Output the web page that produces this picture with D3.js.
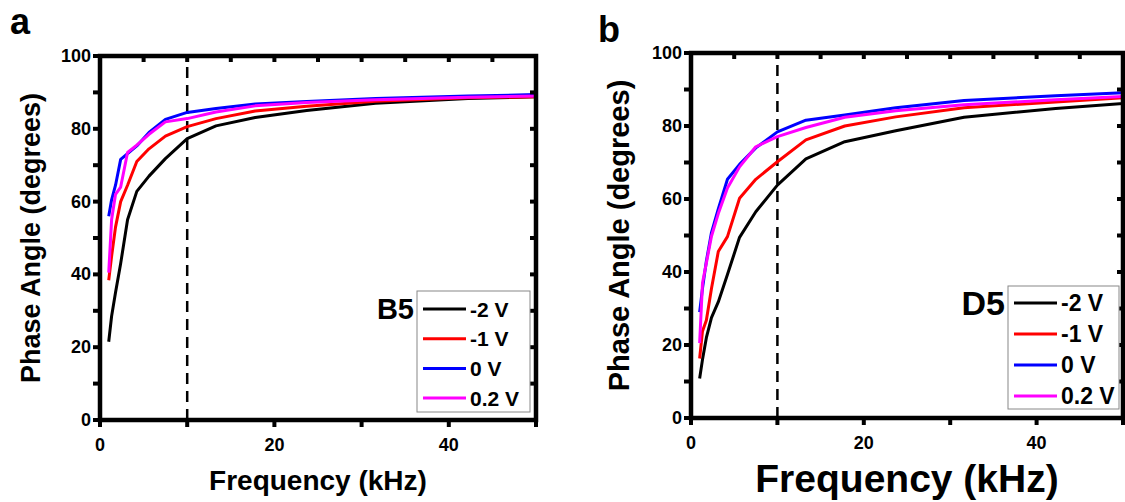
<!DOCTYPE html>
<html>
<head>
<meta charset="utf-8">
<script src="https://d3js.org/d3.v7.min.js"></script>
<style>
  body { margin: 0; background: #fff; }
  svg { font-family: "Liberation Sans", Arial, sans-serif; font-weight: bold; }
  .curve { fill: none; stroke-width: 3; stroke-linejoin: round; }
</style>
</head>
<body>
<script>
// frequencies (kHz), same sweep for every curve
var freq = [1, 1.33, 1.78, 2.37, 3.16, 4.22, 5.62, 7.5, 10, 13.3, 17.8, 23.7, 31.6, 42.2, 56.2];
var voltLabels = ["-2 V", "-1 V", "0 V", "0.2 V"];
var voltColors = ["#000000", "#ff0000", "#0000ff", "#ff00ff"];
var yTicks = [0, 20, 40, 60, 80, 100];
var xTicks = [0, 20, 40];

// device B5, phase angle (degrees)
var b5_m2  = [21.5, 28.5, 35, 43, 55, 62.8, 67, 71.8, 77.3, 80.8, 83.1, 85, 87, 88.3, 89.2];
var b5_m1  = [38.4, 45, 53, 60, 64.5, 71, 74.5, 78, 80.6, 82.8, 84.9, 86.2, 87.6, 88.5, 89.1];
var b5_0   = [56, 60.5, 64.5, 71.6, 73.2, 75.3, 79, 82.6, 84.5, 85.6, 86.8, 87.5, 88.3, 89, 89.7];
var b5_p2  = [40.5, 55, 62, 64, 73.5, 75.5, 78.5, 81.9, 82.8, 84.6, 86.3, 87.2, 88, 88.7, 89.2];

// device D5
var d5_m2  = [10.8, 16, 22, 27.5, 31.8, 39.3, 49.5, 56.5, 63.8, 71, 75.7, 78.7, 82.4, 84.8, 87.3];
var d5_m1  = [16.3, 23.8, 26.8, 35.5, 45.6, 49.7, 60.2, 65.4, 70.2, 76.2, 80, 82.5, 85, 86.6, 88.6];
var d5_0   = [29, 35.5, 43, 50.8, 57.3, 65.4, 69.5, 74, 78.4, 81.6, 83, 85, 87, 88.3, 89.7];
var d5_p2  = [20.5, 37, 42.5, 49.8, 56, 63, 68.8, 74.3, 77.1, 79.6, 82.4, 84.2, 85.8, 87.2, 88.8];

var svg = d3.select("body").append("svg")
    .attr("width", 1125)
    .attr("height", 502);

function drawPanel(cfg) {
    var x = d3.scaleLinear().domain([0, 50]).range([cfg.left, cfg.right]);
    var y = d3.scaleLinear().domain([0, 100]).range([cfg.bottom, cfg.top]);
    var g = svg.append("g");

    // clip so the last sweep point stops at the frame
    g.append("clipPath").attr("id", "clip" + cfg.id)
      .append("rect")
        .attr("x", cfg.left).attr("y", cfg.top)
        .attr("width", cfg.right - cfg.left).attr("height", cfg.bottom - cfg.top);

    // dashed marker at 10 kHz
    g.append("line")
        .attr("x1", x(10)).attr("x2", x(10))
        .attr("y1", y(0)).attr("y2", y(100))
        .attr("stroke", "#000").attr("stroke-width", 2.5)
        .attr("stroke-dasharray", "11,7");

    var line = d3.line()
        .x(function(d, i) { return x(freq[i]); })
        .y(function(d) { return y(d); });

    cfg.series.forEach(function(s, k) {
        g.append("path")
            .attr("class", "curve")
            .attr("clip-path", "url(#clip" + cfg.id + ")")
            .attr("stroke", voltColors[k])
            .attr("d", line(s));
    });

    // frame
    g.append("rect")
        .attr("x", cfg.left).attr("y", cfg.top)
        .attr("width", cfg.right - cfg.left).attr("height", cfg.bottom - cfg.top)
        .attr("fill", "none").attr("stroke", "#000").attr("stroke-width", 4.5);

    // y ticks: out on the left, in on the right
    d3.range(0, 101, 10).forEach(function(v) {
        g.append("line").attr("x1", cfg.left - 7).attr("x2", cfg.left)
            .attr("y1", y(v)).attr("y2", y(v)).attr("stroke", "#000").attr("stroke-width", 4);
        g.append("line").attr("x1", cfg.right - 6).attr("x2", cfg.right)
            .attr("y1", y(v)).attr("y2", y(v)).attr("stroke", "#000").attr("stroke-width", 4);
    });
    // x ticks: out on the bottom, in on the top
    d3.range(0, 51, 10).forEach(function(v) {
        g.append("line").attr("x1", x(v)).attr("x2", x(v))
            .attr("y1", cfg.bottom).attr("y2", cfg.bottom + 7).attr("stroke", "#000").attr("stroke-width", 4);
    });
    d3.range(0, 51, 5).forEach(function(v) {
        g.append("line").attr("x1", x(v)).attr("x2", x(v))
            .attr("y1", cfg.top).attr("y2", cfg.top + 6).attr("stroke", "#000").attr("stroke-width", 4);
    });

    g.selectAll(".ylab" + cfg.id).data(yTicks).enter().append("text")
        .attr("x", cfg.left - 9)
        .attr("y", function(d) { return y(d) + 6; })
        .attr("text-anchor", "end")
        .attr("font-size", 18)
        .text(function(d) { return d; });
    g.selectAll(".xlab" + cfg.id).data(xTicks).enter().append("text")
        .attr("x", function(d) { return x(d); })
        .attr("y", cfg.bottom + 31)
        .attr("text-anchor", "middle")
        .attr("font-size", 18)
        .text(function(d) { return d; });

    // axis titles
    g.append("text")
        .attr("transform", "translate(" + cfg.yTitleX + "," + ((cfg.top + cfg.bottom) / 2) + ") rotate(-90)")
        .attr("text-anchor", "middle")
        .attr("font-size", cfg.yTitleSize)
        .text("Phase Angle (degrees)");
    g.append("text")
        .attr("x", (cfg.left + cfg.right) / 2)
        .attr("y", cfg.xTitleY)
        .attr("text-anchor", "middle")
        .attr("font-size", cfg.xTitleSize)
        .text("Frequency (kHz)");

    // panel letter
    g.append("text")
        .attr("x", cfg.letterX).attr("y", cfg.letterY)
        .attr("font-size", 36)
        .text(cfg.letter);

    // legend
    var lg = cfg.legend;
    g.append("rect")
        .attr("x", lg.x).attr("y", lg.y).attr("width", lg.w).attr("height", lg.h)
        .attr("fill", "#fff").attr("stroke", "#888").attr("stroke-width", 1);
    voltLabels.forEach(function(lab, k) {
        var ry = lg.y + lg.row0 + k * lg.step;
        g.append("line")
            .attr("x1", lg.x + 6).attr("x2", lg.x + 6 + lg.len)
            .attr("y1", ry).attr("y2", ry)
            .attr("stroke", voltColors[k]).attr("stroke-width", 3);
        g.append("text")
            .attr("x", lg.x + 10 + lg.len).attr("y", ry + lg.size * 0.36)
            .attr("font-size", lg.size)
            .text(lab);
    });
    g.append("text")
        .attr("x", lg.x - 3).attr("y", lg.y + lg.row0 + cfg.nameSize * 0.36)
        .attr("text-anchor", "end")
        .attr("font-size", cfg.nameSize)
        .text(cfg.name);
}

drawPanel({
    id: "a", letter: "a", letterX: 10, letterY: 34, name: "B5", nameSize: 29,
    left: 100, right: 536, top: 56, bottom: 420,
    yTitleX: 40, yTitleSize: 27, xTitleY: 490, xTitleSize: 28,
    series: [b5_m2, b5_m1, b5_0, b5_p2],
    legend: { x: 417, y: 291, w: 113, h: 121, row0: 18, step: 29.7, len: 43, size: 21 }
});

drawPanel({
    id: "b", letter: "b", letterX: 598, letterY: 42, name: "D5", nameSize: 34,
    left: 691, right: 1123, top: 53, bottom: 418,
    yTitleX: 629, yTitleSize: 29, xTitleY: 492, xTitleSize: 39,
    series: [d5_m2, d5_m1, d5_0, d5_p2],
    legend: { x: 1008, y: 286, w: 111, h: 123, row0: 17, step: 31, len: 43, size: 23 }
});
</script>
</body>
</html>
